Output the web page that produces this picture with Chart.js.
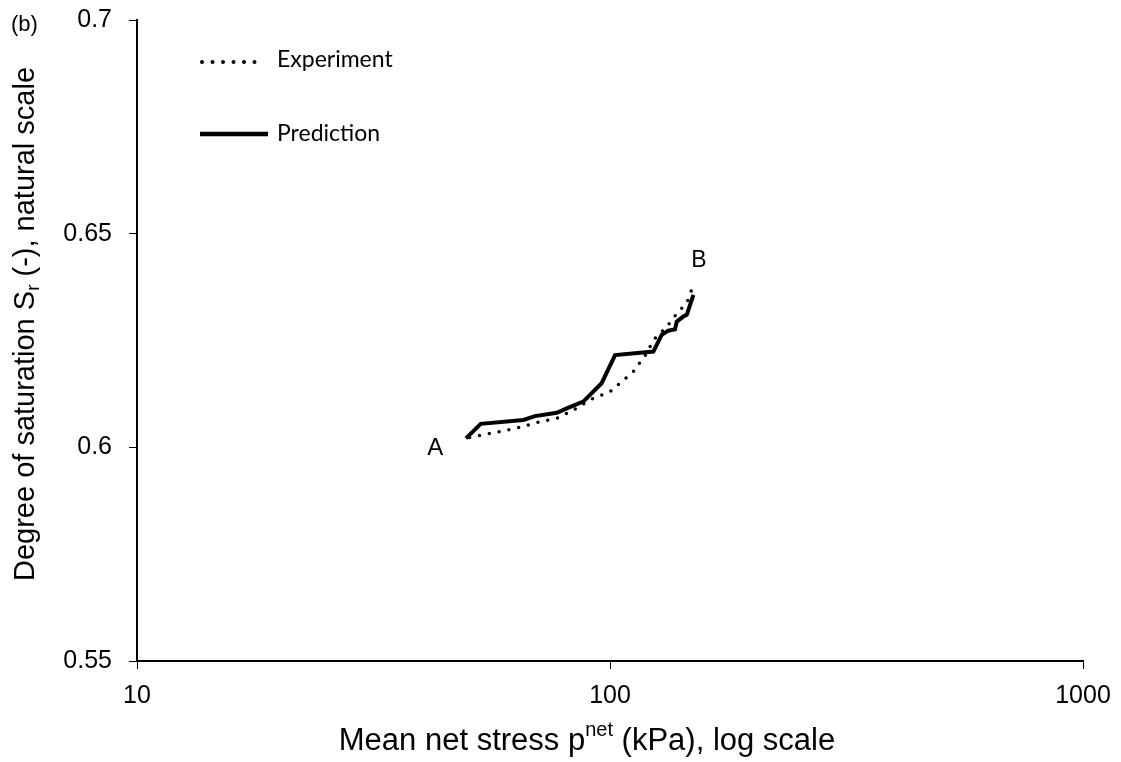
<!DOCTYPE html>
<html>
<head>
<meta charset="utf-8">
<script src="https://cdn.jsdelivr.net/npm/chart.js@4/dist/chart.umd.min.js"></script>
<style>
  html, body { margin: 0; padding: 0; background: #fff; }
  #wrap { width: 1121px; height: 762px; }
</style>
</head>
<body>
<div id="wrap"><canvas id="chart" width="1121" height="762"></canvas></div>
<script>
// Experiment (dotted) — p_net (kPa), Sr
const expStress = [50.5, 54.9, 63.5, 70.0, 77.2, 83.6, 90.7, 100, 112.0, 119.6, 123.5, 131.8, 139.5, 145.3, 149.6];
const expSr     = [0.6023, 0.6031, 0.6045, 0.6058, 0.6068, 0.6087, 0.6111, 0.6130, 0.6177, 0.6220, 0.6251, 0.6282, 0.6318, 0.6337, 0.6376];

// Prediction (solid)
const predStress = [49.6, 53.3, 65.6, 69.4, 77.2, 81.0, 87.8, 96.0, 102.5, 123.5, 128.6, 132.8, 137.2, 138.4, 142.9, 145.3, 150.1];
const predSr     = [0.6021, 0.6055, 0.6064, 0.6073, 0.6081, 0.6091, 0.6107, 0.6150, 0.6216, 0.6224, 0.6263, 0.6273, 0.6276, 0.6294, 0.6306, 0.6310, 0.6357];

const xTicks = [10, 100, 1000];
const yTicks = [0.55, 0.6, 0.65, 0.7];

const ARIAL = '"Liberation Sans", Arial, sans-serif';
const toPoints = (xs, ys) => xs.map((x, i) => ({ x, y: ys[i] }));

// draws the legend, panel tag, A/B labels and axis titles with super/subscripts
const annotations = {
  id: 'annotations',
  afterDraw(chart) {
    const ctx = chart.ctx;
    const xs = chart.scales.x, ys = chart.scales.y;
    ctx.save();
    ctx.fillStyle = '#000';
    ctx.textBaseline = 'middle';

    // panel tag
    ctx.font = '22px ' + ARIAL;
    ctx.fillText('(b)', 11, 25);

    // legend
    ctx.strokeStyle = '#000';
    ctx.lineCap = 'round';
    ctx.lineWidth = 4;
    ctx.setLineDash([0, 10.5]);
    ctx.beginPath(); ctx.moveTo(202, 62); ctx.lineTo(265, 62); ctx.stroke();
    ctx.setLineDash([]);
    ctx.lineCap = 'butt';
    ctx.lineWidth = 4.5;
    ctx.beginPath(); ctx.moveTo(200, 134); ctx.lineTo(268, 134); ctx.stroke();
    ctx.font = '23px Lato, "Open Sans", sans-serif';
    ctx.fillText('Experiment', 277, 60);
    ctx.fillText('Prediction', 277, 134);

    // A / B
    ctx.textAlign = 'center';
    ctx.font = '24px ' + ARIAL;
    ctx.fillText('A', xs.getPixelForValue(42.7), ys.getPixelForValue(0.5998));
    ctx.font = '23px ' + ARIAL;
    ctx.fillText('B', xs.getPixelForValue(154.2), ys.getPixelForValue(0.6436));
    ctx.textAlign = 'left';

    // x title with superscript
    const big = '31px ' + ARIAL;
    const small = '20px ' + ARIAL;
    const parts = [['Mean net stress p', big, 0], ['net', small, -11], [' (kPa), log scale', big, 0]];
    let w = 0;
    parts.forEach(p => { ctx.font = p[1]; w += ctx.measureText(p[0]).width; });
    let cx = 587 - w / 2;
    parts.forEach(p => { ctx.font = p[1]; ctx.fillText(p[0], cx, 741 + p[2]); cx += ctx.measureText(p[0]).width; });

    // y title with subscript, rotated
    ctx.translate(26, 324);
    ctx.rotate(-Math.PI / 2);
    const ybig = '29px ' + ARIAL;
    const ysmall = '19px ' + ARIAL;
    const yparts = [['Degree of saturation S', ybig, 0], ['r', ysmall, 8], [' (-), natural scale', ybig, 0]];
    w = 0;
    yparts.forEach(p => { ctx.font = p[1]; w += ctx.measureText(p[0]).width; });
    cx = -w / 2;
    yparts.forEach(p => { ctx.font = p[1]; ctx.fillText(p[0], cx, p[2]); cx += ctx.measureText(p[0]).width; });
    ctx.restore();
  }
};

new Chart(document.getElementById('chart'), {
  type: 'scatter',
  data: {
    datasets: [
      {
        label: 'Experiment',
        data: toPoints(expStress, expSr),
        showLine: true,
        borderColor: '#000',
        borderWidth: 3.5,
        borderDash: [0, 10],
        borderCapStyle: 'round',
        pointRadius: 0,
        tension: 0,
      },
      {
        label: 'Prediction',
        data: toPoints(predStress, predSr),
        showLine: true,
        borderColor: '#000',
        borderWidth: 4,
        pointRadius: 0,
        tension: 0,
      },
    ],
  },
  options: {
    responsive: false,
    animation: false,
    layout: { padding: { top: 20, right: 38, left: 0, bottom: 0 } },
    plugins: { legend: { display: false }, tooltip: { enabled: false } },
    scales: {
      x: {
        type: 'logarithmic',
        min: 10, max: 1000,
        afterBuildTicks: (s) => { s.ticks = xTicks.map(v => ({ value: v })); },
        afterFit: (s) => { s.height = 101; s.paddingLeft = 0; s.paddingRight = 0; },
        border: { display: true, color: '#000', width: 2 },
        grid: { drawOnChartArea: false, drawTicks: true, tickLength: 8, color: '#000', tickColor: '#000' },
        ticks: {
          color: '#000', padding: 12, maxRotation: 0,
          font: { family: ARIAL, size: 25 },
          callback: (v) => String(v),
        },
      },
      y: {
        min: 0.55, max: 0.7,
        afterBuildTicks: (s) => { s.ticks = yTicks.map(v => ({ value: v })); },
        afterFit: (s) => { s.width = 137; s.paddingTop = 0; s.paddingBottom = 0; },
        border: { display: true, color: '#000', width: 2 },
        grid: { drawOnChartArea: false, drawTicks: true, tickLength: 8, color: '#000', tickColor: '#000' },
        ticks: {
          color: '#000', padding: 17,
          font: { family: ARIAL, size: 25 },
          callback: (v) => String(Math.round(v * 100) / 100),
        },
      },
    },
  },
  plugins: [annotations],
});
</script>
</body>
</html>
